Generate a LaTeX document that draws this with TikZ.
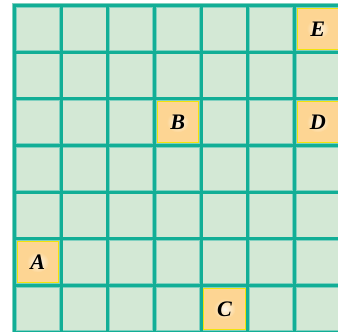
\documentclass[tikz,border=0pt]{standalone}
\usepackage{fontspec}
\setmainfont{Liberation Serif}
\usepackage{xcolor}
\usetikzlibrary{positioning}
\definecolor{gridline}{HTML}{12AE96}
\definecolor{gridedge}{HTML}{7FD0C0}
\definecolor{cellfill}{HTML}{D3E8D5}
\definecolor{markfill}{HTML}{FDD593}
\definecolor{markedge}{HTML}{F2E30A}
\tikzstyle{markcell} = [rectangle, minimum size=0.886cm, inner sep=0pt,
                        fill=markfill, draw=markedge, line width=0.6pt]
\tikzstyle{letter}   = [inner sep=0pt, font=\fontsize{13.5}{13.5}\selectfont\bfseries\itshape]
\tikzstyle{gridouter} = [gridedge, line width=2.6pt, line cap=rect]
\tikzstyle{gridinner} = [gridline, line width=1.9pt, line cap=rect]

\begin{document}
\begin{tikzpicture}
    \useasboundingbox (-0.311,0.025) rectangle (6.932,7.118);
    \fill[cellfill] (0,0) rectangle (7,7);

    % marked cells
    \foreach \name/\col/\row in {A/0/1, B/3/4, C/4/0, D/6/4, E/6/6}
        \node (cell\name) [markcell] at (\col+0.5,\row+0.5) {};

    % grid
    \foreach \i in {0,...,7} {
        \draw[gridouter] (\i,0) -- (\i,7);
        \draw[gridouter] (0,\i) -- (7,\i);
    }
    \foreach \i in {0,...,7} {
        \draw[gridinner] (\i,0) -- (\i,7);
        \draw[gridinner] (0,\i) -- (7,\i);
    }

    % letters on a soft white glow
    \foreach \name in {A,B,C,D,E} {
        \shade[inner color=white!85!markfill, outer color=markfill]
            (cell\name) ellipse (0.24 and 0.22);
        \node (label\name) [letter] at (cell\name) {\name};
    }
\end{tikzpicture}
\end{document}
